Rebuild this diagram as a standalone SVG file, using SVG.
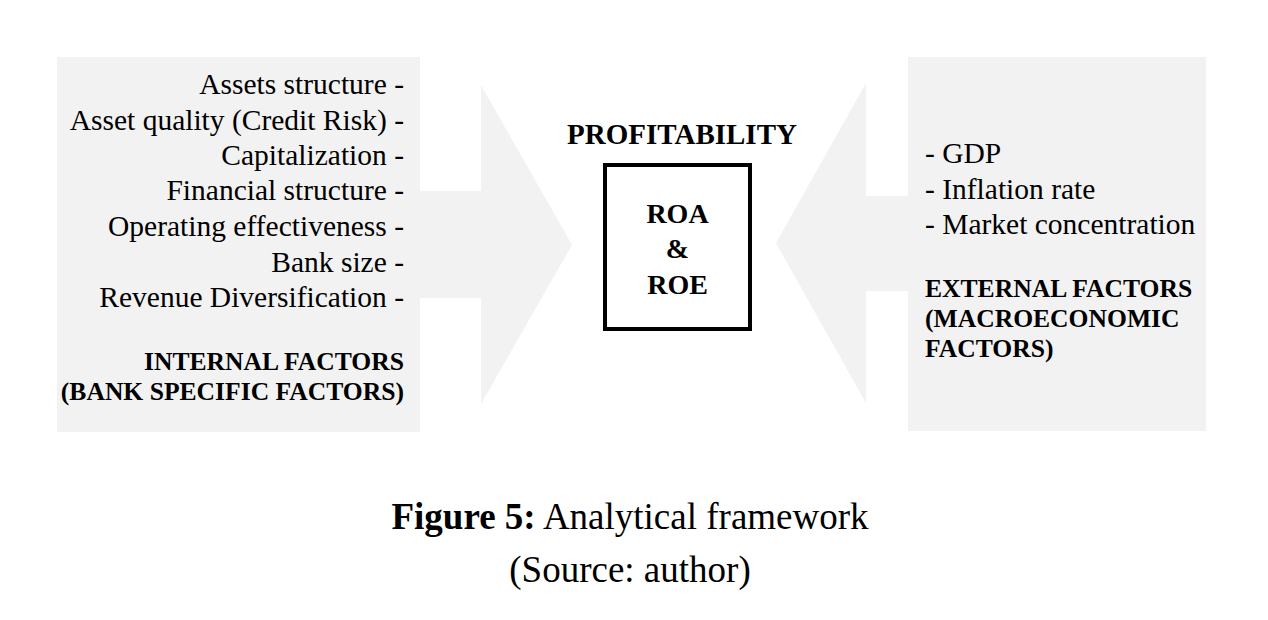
<svg xmlns="http://www.w3.org/2000/svg" width="1268" height="620" viewBox="0 0 1268 620">
  <style>
    .panel { fill: #f2f2f2; }
    .t { font-family: "Liberation Serif", "Times New Roman", serif; fill: #000; }
    .reg { font-size: 29.5px; }
    .lab { font-size: 25.6px; font-weight: bold; }
    .big { font-size: 29px; font-weight: bold; }
    .cap { font-size: 37px; }
    .end { text-anchor: end; }
    .mid { text-anchor: middle; }
  </style>
  <rect width="1268" height="620" fill="#ffffff"/>

  <g id="connectors">
    <polygon class="panel" points="420,191 481,191 481,85 572,245 481,404 481,298 420,298"/>
    <polygon class="panel" points="909,196 866,196 866,83 776,243 866,403 866,291 909,291"/>
  </g>

  <g id="internal-factors">
    <rect class="panel" x="57" y="57" width="363" height="375"/>
    <text class="t reg end" x="404" y="94">Assets structure -</text>
    <text class="t reg end" x="404" y="130">Asset quality (Credit Risk) -</text>
    <text class="t reg end" x="404" y="165">Capitalization -</text>
    <text class="t reg end" x="404" y="200">Financial structure -</text>
    <text class="t reg end" x="404" y="236">Operating effectiveness -</text>
    <text class="t reg end" x="404" y="272">Bank size -</text>
    <text class="t reg end" x="404" y="307">Revenue Diversification -</text>
    <text class="t lab end" x="404" y="370">INTERNAL FACTORS</text>
    <text class="t lab end" x="404" y="400">(BANK SPECIFIC FACTORS)</text>
  </g>

  <g id="profitability">
    <text class="t big mid" x="682" y="144">PROFITABILITY</text>
    <rect x="605" y="165" width="145" height="164" fill="#ffffff" stroke="#000" stroke-width="4"/>
    <text class="t big mid" x="677.5" y="223" style="font-size:28px">ROA</text>
    <text class="t big mid" x="677.5" y="258" style="font-size:28px">&amp;</text>
    <text class="t big mid" x="677.5" y="294" style="font-size:28px">ROE</text>
  </g>

  <g id="external-factors">
    <rect class="panel" x="908" y="57" width="298" height="374"/>
    <text class="t reg" x="925" y="163">- GDP</text>
    <text class="t reg" x="925" y="198.5">- Inflation rate</text>
    <text class="t reg" x="925" y="234">- Market concentration</text>
    <text class="t lab" x="925" y="297">EXTERNAL FACTORS</text>
    <text class="t lab" x="925" y="327">(MACROECONOMIC</text>
    <text class="t lab" x="925" y="357">FACTORS)</text>
  </g>

  <g id="caption">
    <text class="t cap mid" x="630" y="529"><tspan font-weight="bold">Figure 5:</tspan> Analytical framework</text>
    <text class="t cap mid" x="630" y="582">(Source: author)</text>
  </g>
</svg>
